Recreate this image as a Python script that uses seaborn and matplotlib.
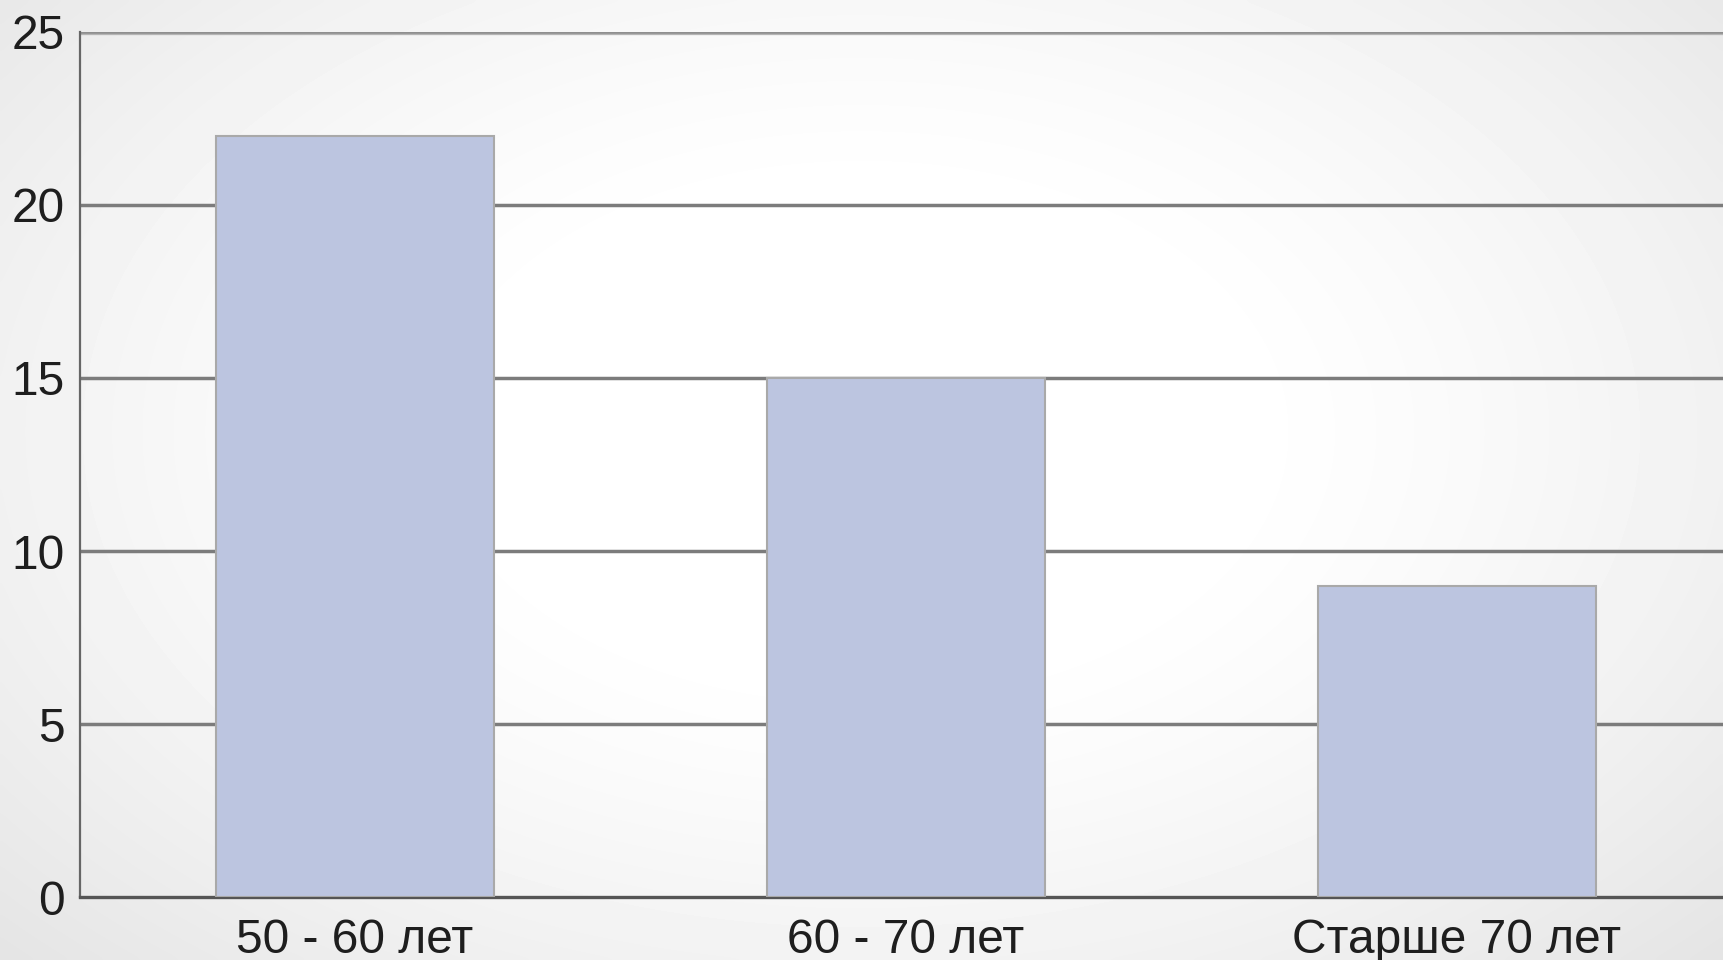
import numpy as np
import pandas as pd
import matplotlib
matplotlib.use("Agg")
import matplotlib.pyplot as plt
import seaborn as sns

# ── Data ──────────────────────────────────────────────────────
categories = ["50 - 60 лет", "60 - 70 лет", "Старше 70 лет"]
values = [22, 15, 9]
y_ticks = [0, 5, 10, 15, 20, 25]

df = pd.DataFrame({"group": categories, "count": values})

sns.set_theme(style="white")
plt.rcParams["font.family"] = ["Liberation Sans", "DejaVu Sans"]

fig = plt.figure(figsize=(17.23, 9.6), dpi=100)

# soft grey vignette behind everything (darker toward bottom-right)
bg = fig.add_axes([0, 0, 1, 1], zorder=0)
yy, xx = np.mgrid[0:1:240j, 0:1:430j]
r = np.sqrt(((xx - 0.5) / 0.7) ** 2 + ((yy - 0.45) / 0.8) ** 2)
shade = 1.0 - 0.17 * np.clip(r - 0.3, 0, None) ** 1.3
bg.imshow(shade, cmap="gray", vmin=0, vmax=1, aspect="auto",
          extent=[0, 1, 0, 1], interpolation="bicubic")
bg.set_axis_off()

ax = fig.add_axes([0.0464, 0.0656, 0.9536, 0.9011], zorder=1)
ax.patch.set_alpha(0)

sns.barplot(data=df, x="group", y="count", color="#bcc5e0", saturation=1,
            width=0.505, edgecolor="#a9a9a9", linewidth=1.5, ax=ax, zorder=3)

ax.set_xlim(-0.499, 2.483)
ax.set_ylim(0, 25)
ax.set_yticks(y_ticks)
ax.set_yticklabels([str(t) for t in y_ticks])
for t in y_ticks[1:-1]:
    ax.axhline(t, color="#7c7c7c", lw=2.5, zorder=1)
ax.axhline(25, color="#b4b4b4", lw=3.8, zorder=1)
ax.axhline(25, color="#8f8f8f", lw=1.8, zorder=1)

ax.set_xlabel("")
ax.set_ylabel("")
ax.tick_params(axis="both", length=0, labelsize=34.5, colors="#1e1e1e")
ax.tick_params(axis="x", pad=15)
ax.tick_params(axis="y", pad=11)

for side in ["top", "right"]:
    ax.spines[side].set_visible(False)
ax.spines["left"].set_color("#666666")
ax.spines["left"].set_linewidth(1.6)
ax.spines["bottom"].set_color("#555555")
ax.spines["bottom"].set_linewidth(2.4)

fig.savefig("out.png", dpi=100)
